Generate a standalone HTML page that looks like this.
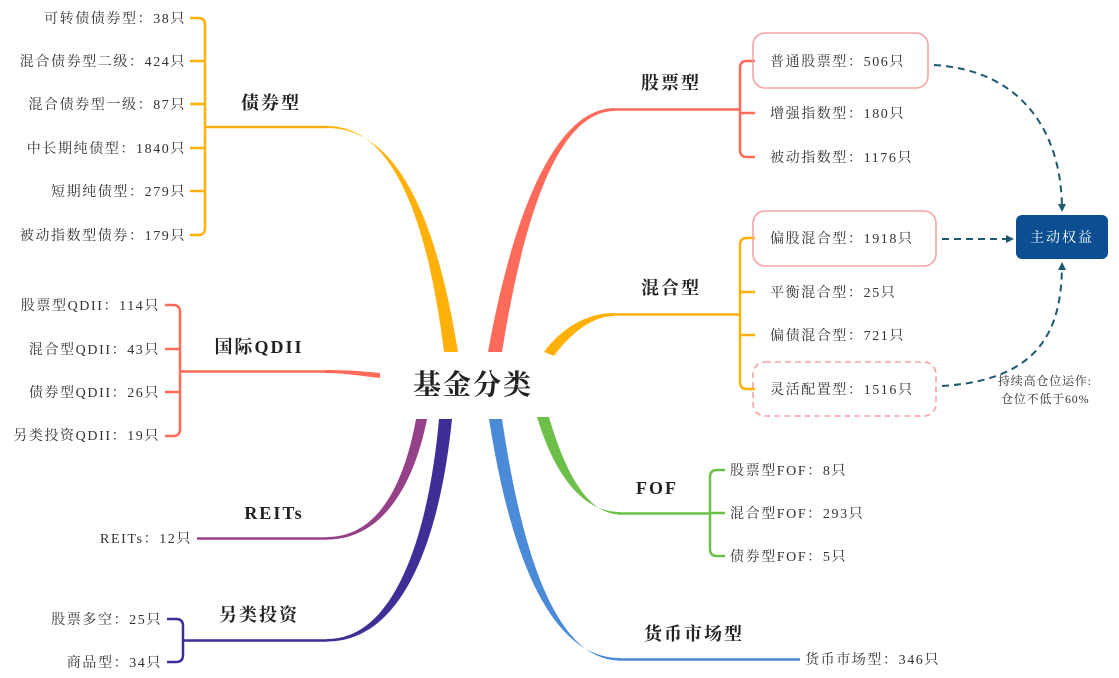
<!DOCTYPE html>
<html><head><meta charset="utf-8"><style>
html,body{margin:0;padding:0;background:#fff;}
svg{display:block}
text{font-family:"Liberation Serif","Noto Serif CJK SC",serif;fill:#333;}
.i{font-size:14px;letter-spacing:1.6px;}
.l{font-size:18px;font-weight:bold;fill:#222;letter-spacing:2px;}
</style></head><body>
<svg width="1119" height="678" viewBox="0 0 1119 678" xmlns="http://www.w3.org/2000/svg">
<defs>
<marker id="ar" markerWidth="8" markerHeight="8" refX="6" refY="4" orient="auto" markerUnits="userSpaceOnUse"><path d="M0,0 L8,4 L0,8 Z" fill="#1d5a70"/></marker>
</defs>
<!-- 债券型 -->
<path d="M327,126 C400,126 430,240 444,352 L458,352 C440,240 405,128 327,128 Z" fill="#FFB10A"/>
<path d="M205,127 H327" stroke="#FFB10A" stroke-width="2.5" fill="none"/>
<path d="M190,18 H198 Q205,18 205,25 V228 Q205,235 198,235 H190 M190,61 H205 M190,104 H205 M190,148 H205 M190,191 H205" stroke="#FFB10A" stroke-width="2.5" fill="none"/>
<text class="l" x="271" y="109" text-anchor="middle">债券型</text>
<text class="i" x="186" y="23" text-anchor="end">可转债债券型：38只</text>
<text class="i" x="186" y="66" text-anchor="end">混合债券型二级：424只</text>
<text class="i" x="186" y="109" text-anchor="end">混合债券型一级：87只</text>
<text class="i" x="186" y="153" text-anchor="end">中长期纯债型：1840只</text>
<text class="i" x="186" y="196" text-anchor="end">短期纯债型：279只</text>
<text class="i" x="186" y="240" text-anchor="end">被动指数型债券：179只</text>
<!-- 股票型 -->
<path d="M615,108 C548,108 508,240 488,352 L502,352 C520,240 552,111 615,111 Z" fill="#FF6B5B"/>
<path d="M615,109.5 H740" stroke="#FF6B5B" stroke-width="2.5" fill="none"/>
<path d="M755,61 H747 Q740,61 740,68 V150 Q740,157 747,157 H755 M740,113 H755" stroke="#FF6B5B" stroke-width="2.5" fill="none"/>
<text class="l" x="671" y="89" text-anchor="middle">股票型</text>
<rect x="753" y="33" width="175" height="55" rx="12" fill="none" stroke="#F7A3A3" stroke-width="1.6"/>
<text class="i" x="770" y="66">普通股票型：506只</text>
<text class="i" x="770" y="118">增强指数型：180只</text>
<text class="i" x="770" y="162">被动指数型：1176只</text>
<!-- 混合型 -->
<path d="M614,313 C585,313 560,330 544,352 L554,356 C570,334 592,316 614,316 Z" fill="#FFB10A"/>
<path d="M612,314.5 H740" stroke="#FFB10A" stroke-width="2.5" fill="none"/>
<path d="M755,238 H747 Q740,238 740,245 V382 Q740,389 747,389 H755 M740,292 H755 M740,335 H755" stroke="#FFB10A" stroke-width="2.5" fill="none"/>
<text class="l" x="671" y="294" text-anchor="middle">混合型</text>
<rect x="753" y="211" width="183" height="55" rx="12" fill="none" stroke="#F7A3A3" stroke-width="1.6"/>
<rect x="753" y="362" width="183" height="54" rx="12" fill="none" stroke="#F7A3A3" stroke-width="1.6" stroke-dasharray="6,4"/>
<text class="i" x="770" y="243">偏股混合型：1918只</text>
<text class="i" x="770" y="297">平衡混合型：25只</text>
<text class="i" x="770" y="340">偏债混合型：721只</text>
<text class="i" x="770" y="394">灵活配置型：1516只</text>
<!-- 主动权益 -->
<rect x="1016" y="215" width="92" height="44" rx="6" fill="#0B4F92"/>
<text x="1062" y="242" text-anchor="middle" style="font-size:14px;fill:#fff;letter-spacing:2px">主动权益</text>
<path d="M934,65 C1020,70 1062,130 1062,210" stroke="#1d5a70" stroke-width="2" fill="none" stroke-dasharray="7,5" marker-end="url(#ar)"/>
<path d="M942,239 H1012" stroke="#1d5a70" stroke-width="2" fill="none" stroke-dasharray="7,5" marker-end="url(#ar)"/>
<path d="M942,386 C1040,380 1062,330 1062,264" stroke="#1d5a70" stroke-width="2" fill="none" stroke-dasharray="7,5" marker-end="url(#ar)"/>
<text x="998" y="385" style="font-size:12px;letter-spacing:0.8px">持续高仓位运作:</text>
<text x="1001" y="403" style="font-size:12px;letter-spacing:0.8px">仓位不低于60%</text>
<!-- 国际QDII -->
<path d="M325,370 C345,370 360,371 380,373 L380,378 C360,376 345,373 325,373 Z" fill="#FF6B5B"/>
<path d="M180,371.5 H326" stroke="#FF6B5B" stroke-width="2.5" fill="none"/>
<path d="M165,305 H173 Q180,305 180,312 V429 Q180,436 173,436 H165 M165,349 H180 M165,392 H180" stroke="#FF6B5B" stroke-width="2.5" fill="none"/>
<text class="l" x="259" y="353" text-anchor="middle">国际QDII</text>
<text class="i" x="160" y="310" text-anchor="end">股票型QDII：114只</text>
<text class="i" x="160" y="354" text-anchor="end">混合型QDII：43只</text>
<text class="i" x="160" y="397" text-anchor="end">债券型QDII：26只</text>
<text class="i" x="160" y="440" text-anchor="end">另类投资QDII：19只</text>
<!-- REITs -->
<path d="M327,537 C380,537 405,480 416,419 L427,419 C415,480 385,539.5 327,539.5 Z" fill="#96408A"/>
<path d="M197,538.5 H327" stroke="#96408A" stroke-width="2.5" fill="none"/>
<text class="l" x="274" y="519" text-anchor="middle">REITs</text>
<text class="i" x="192" y="543" text-anchor="end">REITs：12只</text>
<!-- 另类投资 -->
<path d="M327,639 C400,639 430,520 439,419 L452,419 C442,520 410,641.5 327,641.5 Z" fill="#3F2E96"/>
<path d="M183,640.5 H327" stroke="#3F2E96" stroke-width="2.5" fill="none"/>
<path d="M167,619 H176 Q183,619 183,626 V655 Q183,662 176,662 H167" stroke="#3F2E96" stroke-width="2.5" fill="none"/>
<text class="l" x="259" y="621" text-anchor="middle">另类投资</text>
<text class="i" x="162" y="624" text-anchor="end">股票多空：25只</text>
<text class="i" x="162" y="667" text-anchor="end">商品型：34只</text>
<!-- FOF -->
<path d="M620,512 C580,512 553,470 537,417 L549,417 C563,465 585,514.5 620,514.5 Z" fill="#6CC04A"/>
<path d="M618,513.5 H710" stroke="#6CC04A" stroke-width="2.5" fill="none"/>
<path d="M725,470 H717 Q710,470 710,477 V549 Q710,556 717,556 H725 M710,513 H725" stroke="#6CC04A" stroke-width="2.5" fill="none"/>
<text class="l" x="657" y="494" text-anchor="middle">FOF</text>
<text class="i" x="730" y="475">股票型FOF：8只</text>
<text class="i" x="730" y="518">混合型FOF：293只</text>
<text class="i" x="730" y="561">债券型FOF：5只</text>
<!-- 货币市场型 -->
<path d="M620,658 C545,658 508,540 489,419 L502,419 C520,540 552,660.5 620,660.5 Z" fill="#4A8AD6"/>
<path d="M618,659.5 H800" stroke="#4A8AD6" stroke-width="2.5" fill="none"/>
<text class="l" x="694" y="640" text-anchor="middle">货币市场型</text>
<text class="i" x="805" y="664">货币市场型：346只</text>
<!-- center -->
<text x="473" y="394" text-anchor="middle" style="font-size:28px;font-weight:bold;fill:#222;letter-spacing:2px">基金分类</text>
</svg>
</body></html>
